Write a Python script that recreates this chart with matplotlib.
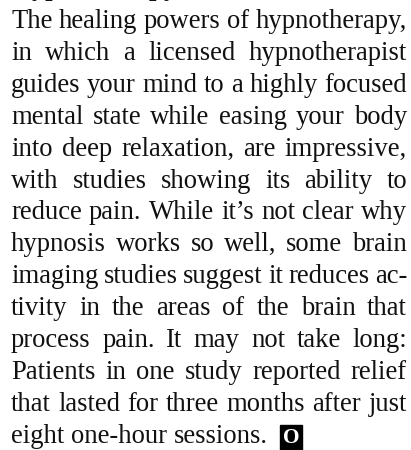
import matplotlib.pyplot as plt
from matplotlib.transforms import IdentityTransform

heading = 'Hypnotherapy'
lines = [
    'The healing powers of hypnotherapy,',
    'in which a licensed hypnotherapist',
    'guides your mind to a highly focused',
    'mental state while easing your body',
    'into deep relaxation, are impressive,',
    'with studies showing its ability to',
    'reduce pain. While it\u2019s not clear why',
    'hypnosis works so well, some brain',
    'imaging studies suggest it reduces ac-',
    'tivity in the areas of the brain that',
    'process pain. It may not take long:',
    'Patients in one study reported relief',
    'that lasted for three months after just',
    'eight one-hour sessions.',
]
end_mark = 'O'

W, H = 411, 450
left, right = 11, 407
first_base = 28      # baseline of first body line, px from top
leading = 31.9
font = 'Liberation Serif'
size = 19.2

fig = plt.figure(figsize=(W / 100, H / 100), dpi=100)
fig.patch.set_facecolor('white')
renderer = fig.canvas.get_renderer()
ident = IdentityTransform()


def put(x, y_top, s, **kw):
    return fig.text(x, H - y_top, s, transform=ident, ha='left', va='baseline',
                    family=font, fontsize=size, color='#111111', **kw)


# heading, almost entirely cut off at the top (as in the source page)
put(left, first_base - leading - 1, heading, fontweight='bold')

# natural word space
probe = put(0, 0, 'a a')
probe1 = put(0, 0, 'aa')
space = probe.get_window_extent(renderer).width - probe1.get_window_extent(renderer).width
probe.remove()
probe1.remove()

end_x = left
for i, line in enumerate(lines):
    y = first_base + i * leading
    words = line.split(' ')
    texts = [put(0, y, w) for w in words]
    widths = [t.get_window_extent(renderer).width for t in texts]
    if i == len(lines) - 1:
        gap = space
    else:
        gap = (right - left - sum(widths)) / (len(words) - 1)
    x = left
    for t, w in zip(texts, widths):
        t.set_x(x)
        x += w + gap
    end_x = x - gap

# end-of-article mark
fig.text(end_x + 15, H - (first_base + (len(lines) - 1) * leading), end_mark,
         transform=ident, ha='left', va='baseline', family=font, fontsize=size * 0.8,
         fontweight='bold', color='white',
         bbox=dict(boxstyle='square,pad=0.12', fc='black', ec='black'))

fig.savefig('out.png', dpi=100, facecolor='white')
